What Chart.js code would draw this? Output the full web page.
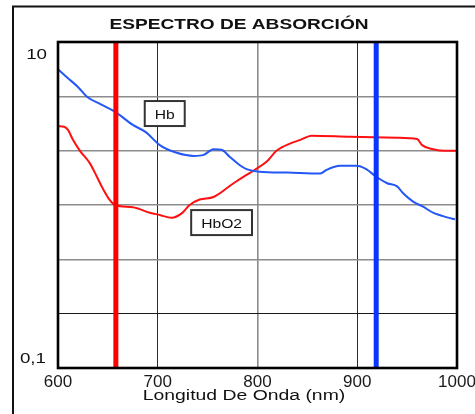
<!DOCTYPE html>
<html>
<head>
<meta charset="utf-8">
<title>Espectro de absorción</title>
<script src="https://cdn.jsdelivr.net/npm/chart.js@4.4.1/dist/chart.umd.min.js"></script>
<style>
  html, body { margin: 0; padding: 0; background: #fff; }
  canvas { display: block; }
</style>
</head>
<body>
<canvas id="chartEspectro" width="475" height="414"></canvas>
<script>
// valori (nm / assorbimento)
var hbNm = [600, 610, 620, 629, 643, 657, 675, 688, 702, 719, 736, 746, 756, 764, 772, 782, 789, 802, 830, 863, 869, 883, 899, 909, 919, 930, 940, 946, 956, 966, 976, 990, 998];
var hbValues = [6.8, 6.0, 5.3, 4.62, 4.15, 3.74, 3.1, 2.8, 2.33, 2.09, 2.0, 2.03, 2.2, 2.18, 1.98, 1.76, 1.66, 1.6, 1.58, 1.56, 1.64, 1.74, 1.74, 1.66, 1.49, 1.36, 1.3, 1.18, 1.05, 0.976, 0.897, 0.84, 0.817];

var hbo2Nm = [600, 606, 610, 615, 622, 632, 639, 645, 652, 657, 675, 692, 702, 714, 724, 732, 742, 756, 776, 789, 797, 809, 819, 833, 843, 854, 893, 940, 960, 965, 976, 988, 1000];
var hbo2Values = [3.05, 3.02, 2.89, 2.51, 2.15, 1.8, 1.49, 1.26, 1.07, 1.0, 0.968, 0.897, 0.868, 0.836, 0.889, 1.0, 1.08, 1.12, 1.36, 1.53, 1.64, 1.84, 2.15, 2.39, 2.51, 2.66, 2.62, 2.59, 2.54, 2.33, 2.2, 2.15, 2.15];

var xTicks = [600, 700, 800, 900, 1000];
var yGridValues = [0.1, 0.2154, 0.4642, 1, 2.154, 4.642, 10];
var yLabels = ['0,1', '10'];
var redLineNm = 658;
var blueLineNm = 919;
var curveLabels = ['Hb', 'HbO2'];

var FONT = "'Liberation Sans', Arial, Helvetica, sans-serif";
var SX = 1.25;

function toPoints(xs, ys) {
    var pts = [];
    for (var i = 0; i < xs.length; i++)
        pts.push({ x: xs[i], y: ys[i] });
    return pts;
}

function drawText(ctx, text, x, y, size, weight, align) {
    ctx.save();
    ctx.font = (weight || 'normal') + ' ' + size + 'px ' + FONT;
    ctx.textAlign = align || 'center';
    ctx.textBaseline = 'alphabetic';
    ctx.fillStyle = '#111';
    ctx.translate(x, y);
    ctx.scale(SX, 1);
    ctx.fillText(text, 0, 0);
    ctx.restore();
}

function drawLabelBox(ctx, text, cx, cy) {
    ctx.save();
    ctx.font = '12.5px ' + FONT;
    var w = ctx.measureText(text).width * SX + 20;
    var h = 25;
    ctx.fillStyle = '#fff';
    ctx.fillRect(cx - w / 2, cy - h / 2, w, h);
    ctx.strokeStyle = '#333';
    ctx.lineWidth = 2;
    ctx.strokeRect(cx - w / 2, cy - h / 2, w, h);
    ctx.restore();
    drawText(ctx, text, cx, cy + 5, 12.5);
}

var decorPlugin = {
    id: 'decor',
    beforeDraw: function(chart) {
        var ctx = chart.ctx;
        ctx.save();
        ctx.strokeStyle = '#111';
        ctx.lineWidth = 2;
        ctx.beginPath();
        ctx.moveTo(13, 414);
        ctx.lineTo(13, 6.5);
        ctx.lineTo(475, 6.5);
        ctx.stroke();
        ctx.restore();
    },
    afterDatasetsDraw: function(chart) {
        var ctx = chart.ctx;
        var a = chart.chartArea;
        var xs = chart.scales.x;
        var ys = chart.scales.y;

        ctx.save();
        ctx.strokeStyle = '#000';
        ctx.lineWidth = 2.6;
        ctx.strokeRect(a.left, a.top, a.right - a.left, a.bottom - a.top);
        ctx.restore();

        drawLabelBox(ctx, curveLabels[0], xs.getPixelForValue(707), ys.getPixelForValue(3.64));
        drawLabelBox(ctx, curveLabels[1], xs.getPixelForValue(764), ys.getPixelForValue(0.78));

        drawText(ctx, 'ESPECTRO DE ABSORCIÓN', 239, 28.5, 15.3, 'bold');
        drawText(ctx, 'Longitud De Onda (nm)', a.left + 186, 399.5, 15.5);
        drawText(ctx, yLabels[1], a.left - 11, ys.getPixelForValue(10) + 17, 15, 'normal', 'right');
        drawText(ctx, yLabels[0], a.left - 12, ys.getPixelForValue(0.1) - 5, 15, 'normal', 'right');
    }
};

var ctx = document.getElementById('chartEspectro').getContext('2d');
var chart = new Chart(ctx, {
    type: 'line',
    data: {
        datasets: [{
            label: 'rojo',
            data: [{ x: redLineNm, y: 0.1 }, { x: redLineNm, y: 10 }],
            borderColor: '#ff0000',
            borderWidth: 5,
            pointRadius: 0,
            order: 0
        }, {
            label: 'azul',
            data: [{ x: blueLineNm, y: 0.1 }, { x: blueLineNm, y: 10 }],
            borderColor: '#0a34ff',
            borderWidth: 5,
            pointRadius: 0,
            order: 0
        }, {
            label: 'Hb',
            data: toPoints(hbNm, hbValues),
            borderColor: '#2457f5',
            borderWidth: 2,
            pointRadius: 0,
            cubicInterpolationMode: 'monotone',
            order: 1
        }, {
            label: 'HbO2',
            data: toPoints(hbo2Nm, hbo2Values),
            borderColor: '#ff1010',
            borderWidth: 2,
            pointRadius: 0,
            cubicInterpolationMode: 'monotone',
            order: 1
        }]
    },
    options: {
        responsive: false,
        animation: false,
        devicePixelRatio: 1,
        layout: { padding: { top: 42, left: 58, right: 18, bottom: 0 } },
        plugins: {
            legend: { display: false },
            tooltip: { enabled: false },
            title: { display: false }
        },
        scales: {
            x: {
                type: 'linear',
                min: 600,
                max: 1000,
                afterBuildTicks: function(scale) {
                    scale.ticks = xTicks.map(function(v) { return { value: v }; });
                },
                afterFit: function(scale) {
                    scale.height = 46;
                    scale.paddingLeft = 0;
                    scale.paddingRight = 0;
                },
                ticks: {
                    padding: 4,
                    maxRotation: 0,
                    color: '#1a1a1a',
                    font: { family: FONT, size: 17 },
                    callback: function(v) { return String(v); }
                },
                grid: {
                    drawTicks: false,
                    color: function(c) {
                        if (c.tick && c.tick.value === 800) return '#8c8c8c';
                        return '#2a2a2a';
                    },
                    lineWidth: function(c) {
                        return c.tick && c.tick.value === 800 ? 1.6 : 1;
                    }
                },
                border: { display: false }
            },
            y: {
                type: 'logarithmic',
                min: 0.1,
                max: 10,
                afterBuildTicks: function(scale) {
                    scale.ticks = yGridValues.map(function(v) { return { value: v }; });
                },
                afterFit: function(scale) { scale.width = 0; },
                ticks: { display: false },
                grid: {
                    drawTicks: false,
                    color: function(c) {
                        if (c.tick && c.tick.value === yGridValues[1]) return '#1a1a1a';
                        return '#8c8c8c';
                    },
                    lineWidth: function(c) {
                        return c.tick && c.tick.value === yGridValues[1] ? 1 : 1.6;
                    }
                },
                border: { display: false }
            }
        }
    },
    plugins: [decorPlugin]
});
</script>
</body>
</html>
